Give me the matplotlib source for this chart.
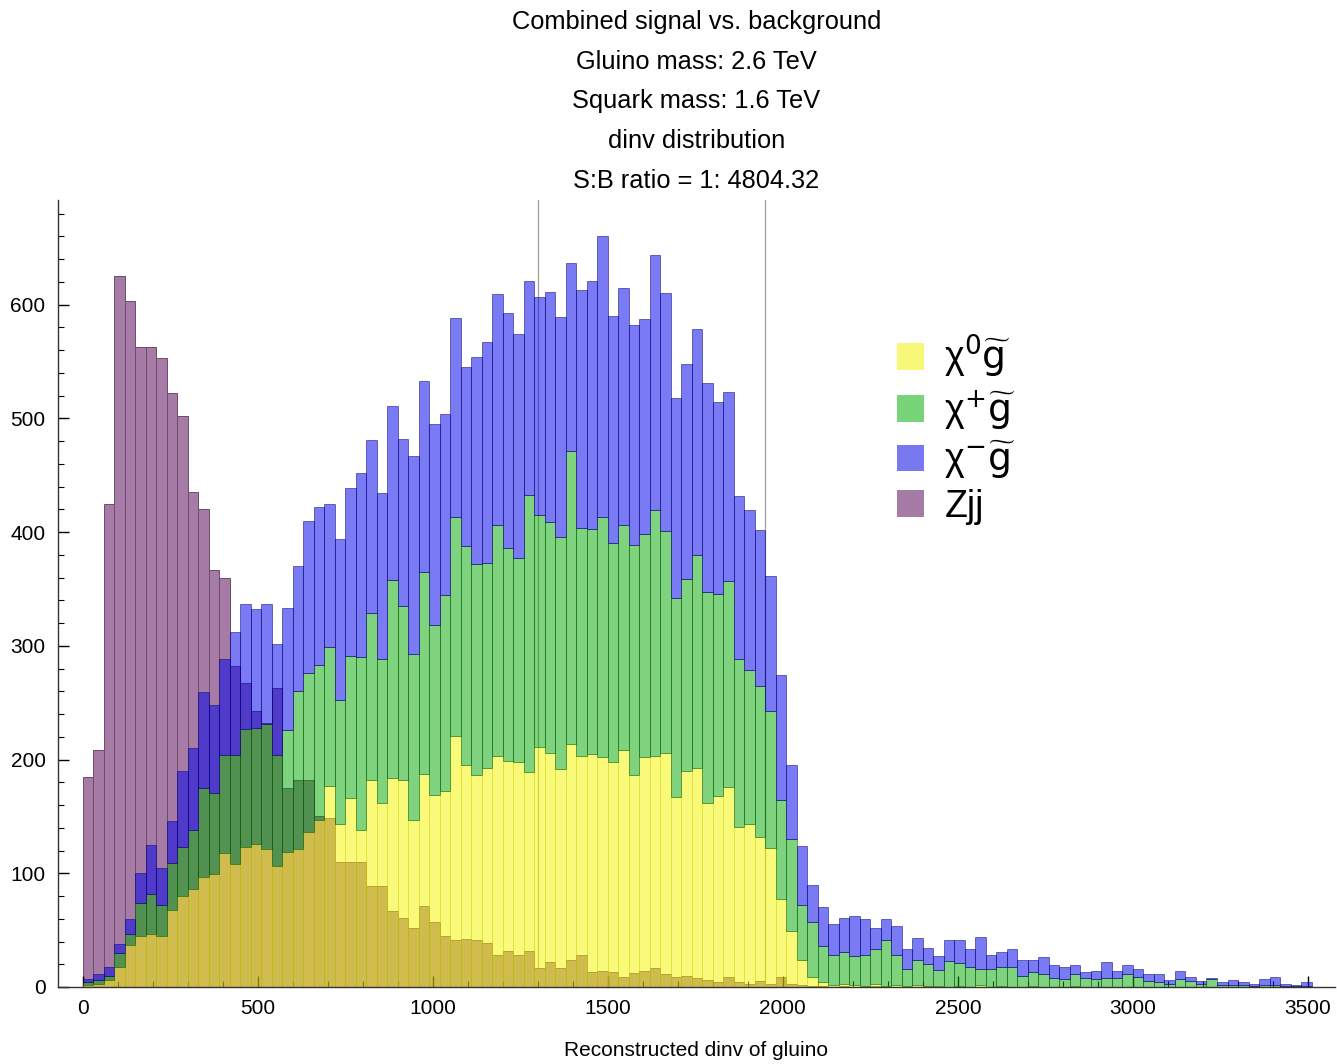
import numpy as np
import matplotlib
matplotlib.use("Agg")
import matplotlib.pyplot as plt
from matplotlib.patches import Patch
from matplotlib.ticker import MultipleLocator

plt.rcParams['font.family'] = ['Liberation Sans', 'DejaVu Sans']
plt.rcParams['mathtext.fontset'] = 'dejavusans'

# counts per 30 GeV bin, starting at 0
bin_width = 30

chi0_g = [2, 3, 6, 18, 37, 45, 47, 45, 68, 80,
          86, 97, 99, 118, 108, 123, 126, 121, 106, 119,
          121, 136, 147, 177, 143, 166, 138, 182, 162, 184,
          182, 147, 187, 169, 172, 221, 195, 186, 193, 203,
          199, 198, 189, 211, 206, 192, 214, 203, 205, 202,
          198, 208, 186, 202, 203, 206, 167, 190, 193, 162,
          168, 176, 141, 143, 132, 122, 77, 49, 24, 9,
          4, 2, 3, 2, 1, 3, 1, 2, 1, 2,
          1, 1, 0, 1, 0, 2, 0, 1, 0, 0,
          1, 0, 0, 0, 1, 0, 0, 0, 0, 0,
          0, 0, 0, 0, 0, 0, 0, 0, 0, 0,
          0, 0, 0, 0, 0, 0, 0]

chip_g = [2, 3, 4, 12, 10, 29, 35, 27, 41, 43,
          52, 78, 72, 86, 96, 104, 102, 110, 98, 107,
          139, 140, 136, 122, 109, 125, 152, 147, 126, 174,
          153, 146, 178, 149, 173, 192, 193, 186, 180, 203,
          187, 179, 244, 204, 203, 204, 257, 201, 198, 211,
          192, 198, 203, 196, 216, 195, 175, 169, 187, 185,
          178, 181, 147, 136, 133, 121, 87, 81, 48, 48,
          32, 26, 28, 25, 27, 30, 40, 26, 15, 22,
          19, 14, 23, 20, 18, 14, 16, 17, 18, 10,
          12, 11, 8, 7, 10, 8, 7, 8, 8, 11,
          9, 5, 4, 3, 7, 5, 3, 7, 2, 2,
          2, 1, 2, 2, 1, 1, 1]

chim_g = [3, 5, 8, 8, 13, 26, 43, 33, 37, 67,
          72, 84, 77, 84, 108, 110, 104, 106, 98, 107,
          110, 134, 139, 126, 142, 148, 162, 152, 146, 153,
          147, 174, 168, 177, 159, 175, 157, 182, 194, 203,
          207, 197, 188, 192, 202, 193, 166, 209, 218, 247,
          200, 209, 193, 189, 225, 209, 176, 189, 199, 184,
          168, 166, 144, 140, 137, 118, 110, 65, 52, 33,
          34, 27, 30, 35, 32, 19, 19, 26, 17, 19,
          14, 12, 18, 20, 15, 28, 12, 13, 15, 14,
          11, 15, 11, 11, 8, 5, 7, 14, 6, 8,
          7, 6, 7, 3, 7, 4, 2, 1, 2, 4,
          2, 2, 5, 7, 2, 1, 3]

zjj = [185, 208, 425, 625, 603, 563, 563, 553, 522, 502,
       435, 420, 367, 360, 282, 267, 243, 232, 263, 175,
       182, 182, 150, 149, 110, 110, 110, 89, 89, 67,
       61, 52, 71, 57, 45, 41, 42, 41, 39, 28,
       32, 28, 32, 17, 22, 17, 24, 28, 13, 14,
       13, 9, 12, 14, 17, 11, 9, 10, 8, 6,
       4, 9, 4, 3, 5, 3, 9, 3, 2, 1,
       1, 0, 1, 0, 0, 1, 0, 0, 0, 0,
       0, 0, 0, 0, 0, 0, 0, 0, 0, 0,
       0, 0, 0, 0, 0, 0, 0, 0, 0, 0,
       0, 0, 0, 0, 0, 0, 0, 0, 0, 0,
       0, 0, 0, 0, 0, 0, 0]

cut_lines = [1300, 1950]

title_lines = ["Combined signal vs. background",
               "Gluino mass: 2.6 TeV",
               "Squark mass: 1.6 TeV",
               "dinv distribution",
               "S:B ratio = 1: 4804.32"]

labels = [r'χ$^{0}\widetilde{\mathrm{g}}$', r'χ$^{+}\widetilde{\mathrm{g}}$',
          r'χ$^{-}\widetilde{\mathrm{g}}$', 'Zjj']

left = np.arange(len(chi0_g)) * bin_width
chi0 = np.array(chi0_g)
chip = np.array(chip_g)
chim = np.array(chim_g)

fig = plt.figure(figsize=(13.37, 10.64), dpi=100)
ax = fig.add_axes([58 / 1337, 77 / 1064, 1277 / 1337, 787 / 1064])

for x in cut_lines:
    ax.axvline(x, color='#a0a0a0', lw=0.9, zorder=0)

# background drawn solid, signal stacked on top with half opacity
ax.bar(left, zjj, width=bin_width, align='edge', color='#a67ba6',
       edgecolor='#6e4a6e', lw=0.7, zorder=1)
ax.bar(left, chi0, width=bin_width, align='edge', color=(0.97, 0.97, 0.0, 0.52),
       edgecolor=(0.8, 0.8, 0.0, 0.35), lw=0.7, zorder=2)
ax.bar(left, chip, bottom=chi0, width=bin_width, align='edge', color=(0.0, 0.66, 0.0, 0.5),
       edgecolor=(0.0, 0.35, 0.0, 0.5), lw=0.7, zorder=2)
ax.bar(left, chim, bottom=chi0 + chip, width=bin_width, align='edge', color=(0.0, 0.0, 0.92, 0.52),
       edgecolor=(0.0, 0.0, 0.45, 0.5), lw=0.7, zorder=2)

ax.set_xlim(-70, 3577)
ax.set_ylim(0, 692)

for s in ['top', 'right']:
    ax.spines[s].set_visible(False)
for s in ['left', 'bottom']:
    ax.spines[s].set_linewidth(1.0)
    ax.spines[s].set_color('#333333')

ax.xaxis.set_major_locator(MultipleLocator(500))
ax.xaxis.set_minor_locator(MultipleLocator(100))
ax.yaxis.set_major_locator(MultipleLocator(100))
ax.yaxis.set_minor_locator(MultipleLocator(20))
ax.tick_params(which='major', direction='in', length=8, width=1.0, labelsize=15, pad=9)
ax.tick_params(which='minor', direction='in', length=4, width=0.8)

ax.set_title("\n".join(title_lines), fontsize=18.3, linespacing=1.82, pad=9)
ax.set_xlabel('Reconstructed dinv of gluino', fontsize=15, labelpad=16)

handles = [Patch(facecolor='#f8f878'), Patch(facecolor='#78d478'),
           Patch(facecolor='#7878f0'), Patch(facecolor='#a67ba6')]
ax.legend(handles, labels, loc='upper left', bbox_to_anchor=(0.645, 0.85),
          frameon=False, fontsize=27, handlelength=0.72, handleheight=0.72,
          handletextpad=0.55, labelspacing=0.2, borderaxespad=0)

fig.savefig('out.png', dpi=100)
